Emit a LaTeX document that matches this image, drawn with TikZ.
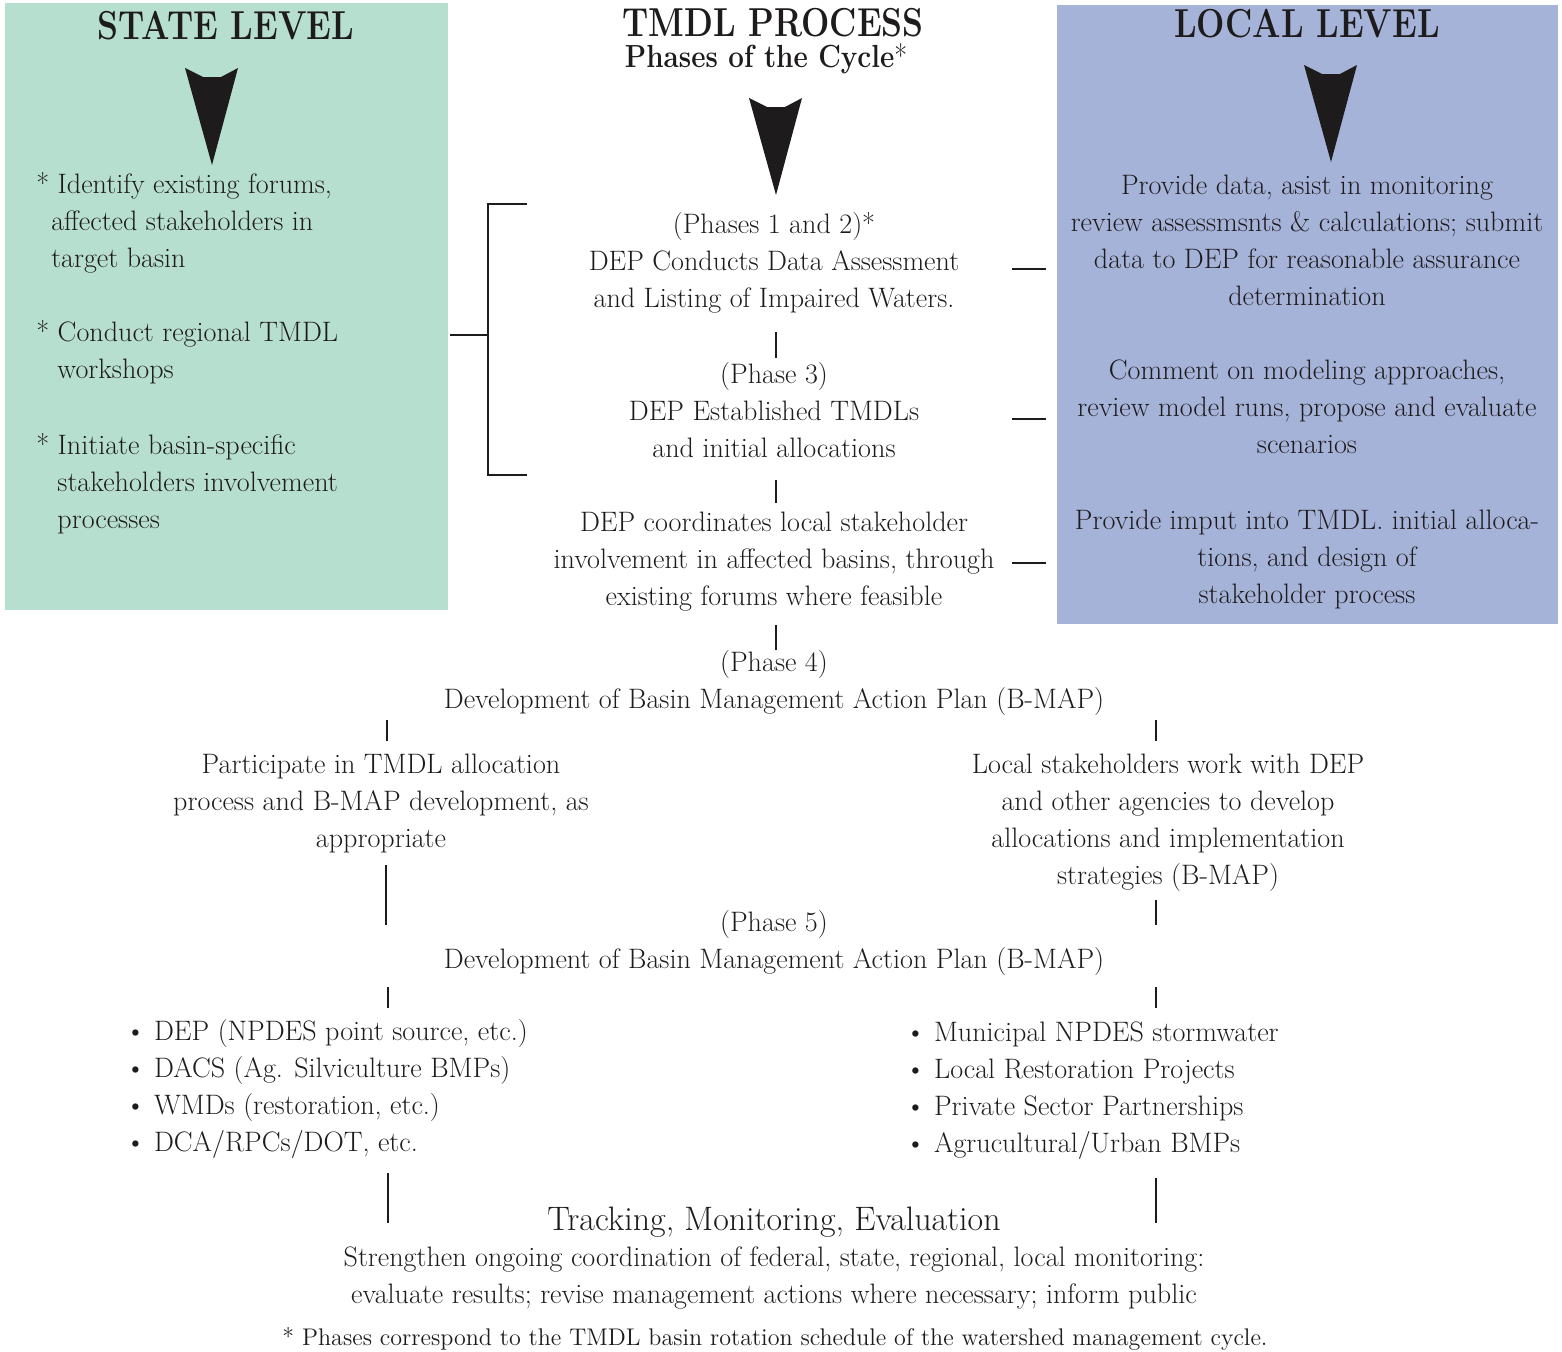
\documentclass[tikz,border=0pt]{standalone}
\usepackage{graphicx}
\usepackage{tikz}
\usetikzlibrary{positioning}

\definecolor{stategreen}{RGB}{183,223,207}
\definecolor{localblue}{RGB}{166,179,217}
\definecolor{ink}{RGB}{30,27,28}

\newcommand{\bodyfont}{\fontsize{16}{21}\selectfont}
\newcommand{\headfont}{\fontsize{23}{27}\selectfont\bfseries}
\newcommand{\subheadfont}{\fontsize{18.2}{22}\selectfont\bfseries}

\begin{document}
\begin{tikzpicture}[x=0.02cm, y=-0.02cm,
                    every node/.style={text=ink, inner sep=0pt},
                    head/.style={font=\headfont, anchor=base},
                    body/.style={font=\bodyfont, align=center, anchor=base},
                    item/.style={font=\bodyfont, align=left, anchor=base west},
                    link/.style={draw=ink, line width=1.3pt}]
    \useasboundingbox (0,0) rectangle (1562,1352);

    % panels
    \fill[stategreen] (5,3) rectangle (448,610);
    \fill[localblue] (1057,5) rectangle (1558,624);

    % headings
    \node[head] (statetitle) at (226,39) {\scalebox{0.83}[1]{STATE LEVEL}};
    \node[head] (tmdltitle) at (773,36) {\scalebox{0.83}[1]{TMDL PROCESS}};
    \node[head, font=\subheadfont] (cycle) at (766,67) {\scalebox{0.87}[1]{Phases of the Cycle\textmd{*}}};
    \node[head] (localtitle) at (1307,37) {\scalebox{0.83}[1]{LOCAL LEVEL}};

    % big down arrows
    \foreach \ax/\ay in {212/68, 776/98, 1331/65}
        \fill[ink] (\ax-27,\ay) -- (\ax-9,\ay+9) -- (\ax+9,\ay+9) -- (\ax+26,\ay) -- (\ax,\ay+97) -- cycle;

    % state level (nodes sit on the baseline of their last line)
    \node[item] (identify) at (36,267) {*\ Identify existing forums,\\\hspace*{8.5pt}affected stakeholders in\\\hspace*{8.5pt}target basin};
    \node[item] (workshops) at (36,378) {*\ Conduct regional TMDL\\\hspace*{12pt}workshops};
    \node[item] (initiate) at (36,528) {*\ Initiate basin-specific\\\hspace*{12pt}stakeholders involvement\\\hspace*{12pt}processes};

    % process column
    \node[body] (phase12) at (774,307) {(Phases 1 and 2)*\\DEP Conducts Data Assessment\\and Listing of Impaired Waters.};
    \node[body] (phase3) at (774,457) {(Phase 3)\\DEP Established TMDLs\\and initial allocations};
    \node[body] (coordinates) at (774,605) {DEP coordinates local stakeholder\\involvement in affected basins, through\\existing forums where feasible};
    \node[body] (phase4) at (774,708) {(Phase 4)\\Development of Basin Management Action Plan (B-MAP)};
    \node[body] (participate) at (381,847) {Participate in TMDL allocation\\process and B-MAP development, as\\appropriate};
    \node[body] (localwork) at (1168,884) {Local stakeholders work with DEP\\and other agencies to develop\\allocations and implementation\\strategies (B-MAP)};
    \node[body] (phase5) at (774,968) {(Phase 5)\\Development of Basin Management Action Plan (B-MAP)};
    \node[item] (statelist) at (125,1151) {\textbullet\ DEP (NPDES point source, etc.)\\\textbullet\ DACS (Ag. Silviculture BMPs)\\\textbullet\ WMDs (restoration, etc.)\\\textbullet\ DCA/RPCs/DOT, etc.};
    \node[item] (locallist) at (905,1152) {\textbullet\ Municipal NPDES stormwater\\\textbullet\ Local Restoration Projects\\\textbullet\ Private Sector Partnerships\\\textbullet\ Agrucultural/Urban BMPs};
    \node[body, font=\fontsize{19.3}{23}\selectfont] (tracking) at (774,1230) {Tracking, Monitoring, Evaluation};
    \node[body] (strengthen) at (774,1303) {Strengthen ongoing coordination of federal, state, regional, local monitoring:\\evaluate results; revise management actions where necessary; inform public};
    \node[body, font=\fontsize{13.7}{16}\selectfont] (footnote) at (775,1345) {* Phases correspond to the TMDL basin rotation schedule of the watershed management cycle.};

    % local level
    \node[body] (providedata) at (1307,305) {Provide data, asist in monitoring\\review assessmsnts \& calculations; submit\\data to DEP for reasonable assurance\\determination};
    \node[body] (comment) at (1307,453) {Comment on modeling approaches,\\review model runs, propose and evaluate\\scenarios};
    \node[body] (imput) at (1307,603) {Provide imput into TMDL. initial alloca-\\tions, and design of\\stakeholder process};

    % connector ends
    \coordinate (p12out) at (776,332);   \coordinate (p3in) at (776,358);
    \coordinate (p3out) at (776,480);    \coordinate (coordin) at (776,503);
    \coordinate (coordout) at (776,625); \coordinate (p4in) at (776,650);
    \coordinate (p4left) at (387,720);   \coordinate (partin) at (387,741);
    \coordinate (p4right) at (1156,720); \coordinate (localin) at (1156,741);
    \coordinate (partout) at (386,865);  \coordinate (p5left) at (386,925);
    \coordinate (localout) at (1156,900); \coordinate (p5right) at (1156,925);
    \coordinate (p5outl) at (388,987);   \coordinate (slistin) at (388,1008);
    \coordinate (p5outr) at (1156,987);  \coordinate (llistin) at (1156,1008);
    \coordinate (slistout) at (388,1173); \coordinate (trackl) at (388,1223);
    \coordinate (llistout) at (1156,1178); \coordinate (trackr) at (1156,1223);
    \coordinate (brtop) at (527,204);    \coordinate (brbot) at (527,475);
    \coordinate (brmid) at (488,335);    \coordinate (stateedge) at (450,335);
    \coordinate (dataa) at (1012,269);   \coordinate (datab) at (1046,269);
    \coordinate (commenta) at (1012,419); \coordinate (commentb) at (1046,419);
    \coordinate (imputa) at (1012,563);  \coordinate (imputb) at (1046,563);

    % connectors
    \path[link]
     (p12out)   edge (p3in)
     (p3out)    edge (coordin)
     (coordout) edge (p4in)
     (p4left)   edge (partin)
     (p4right)  edge (localin)
     (partout)  edge (p5left)
     (localout) edge (p5right)
     (p5outl)   edge (slistin)
     (p5outr)   edge (llistin)
     (slistout) edge (trackl)
     (llistout) edge (trackr)
     (stateedge) edge (brmid)
     (dataa)    edge (datab)
     (commenta) edge (commentb)
     (imputa)   edge (imputb);
    \draw[link] (brtop) -| (brmid) |- (brbot);

\end{tikzpicture}
\end{document}
